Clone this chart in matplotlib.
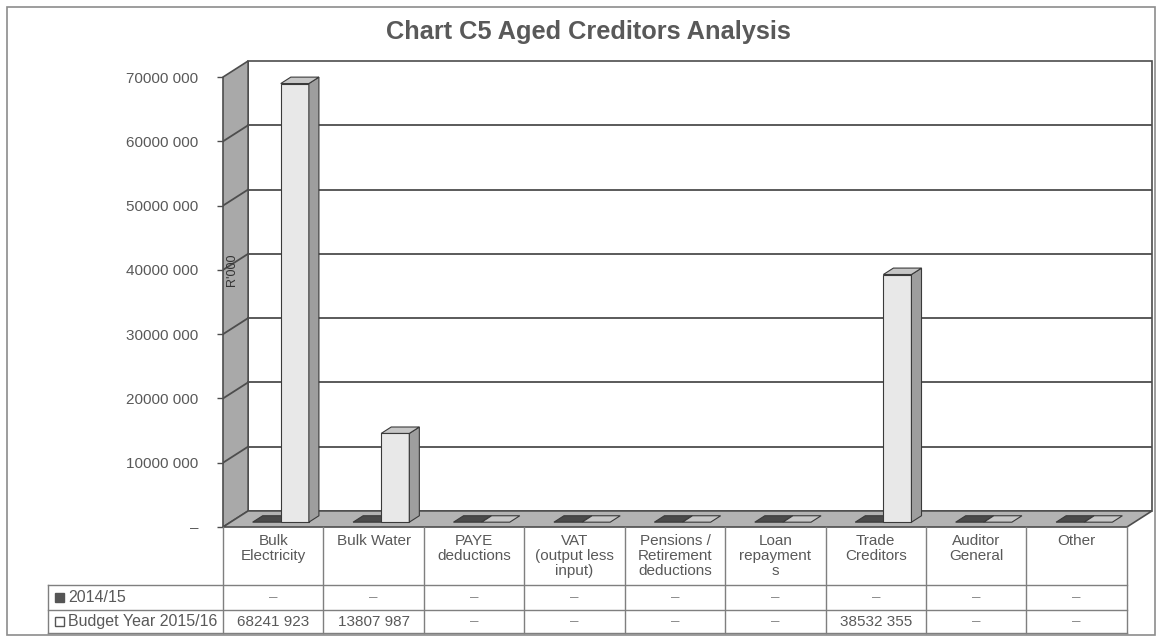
import matplotlib.pyplot as plt
from matplotlib.patches import Polygon, Rectangle

plt.rcParams['font.family'] = ['Liberation Sans', 'DejaVu Sans']

# ---- data -------------------------------------------------------------
categories = ["Bulk\nElectricity", "Bulk Water", "PAYE\ndeductions",
              "VAT\n(output less\ninput)", "Pensions /\nRetirement\ndeductions",
              "Loan\nrepayment\ns", "Trade\nCreditors", "Auditor\nGeneral", "Other"]
prior_year = [0, 0, 0, 0, 0, 0, 0, 0, 0]                       # 2014/15
budget_year = [68241923, 13807987, 0, 0, 0, 0, 38532355, 0, 0]  # 2015/16
series_names = ["2014/15", "Budget Year 2015/16"]
y_ticks = [0, 10e6, 20e6, 30e6, 40e6, 50e6, 60e6, 70e6]

TEXT = "#595959"
GRID = "#4d4d4d"
DX, DY = 0.25, 2.5e6          # depth offset of the back wall (x units, y units)
Z0, Z1 = 0.3, 0.7             # bar depth span, as fraction of the depth
W, H = 1162, 636


def fmt(v):
    v = int(round(v))
    if v == 0:
        return "\u2013"
    return f"{v // 1000} {v % 1000:03d}"


def bar3d(ax, x0, w, v, front, side, top):
    xa, xb = x0 + Z0 * DX, x0 + w + Z0 * DX
    ya, yb = Z0 * DY, Z1 * DY
    shift = (Z1 - Z0) * DX
    kw = dict(ec="#3a3a3a", lw=0.8, zorder=4, clip_on=False)
    if v > 0:
        ax.add_patch(Polygon([(xa, ya), (xb, ya), (xb, ya + v), (xa, ya + v)], fc=front, **kw))
        ax.add_patch(Polygon([(xb, ya), (xb + shift, yb), (xb + shift, yb + v), (xb, ya + v)],
                             fc=side, **kw))
    ax.add_patch(Polygon([(xa, ya + v), (xb, ya + v), (xb + shift, yb + v), (xa + shift, yb + v)],
                         fc=top, **kw))


fig = plt.figure(figsize=(W / 100, H / 100), dpi=100)
fig.patch.set_facecolor("white")

n = len(categories)
ax = fig.add_axes([223 / W, (H - 527) / H, (1152 - 223) / W, (527 - 61) / H])
ax.set_xlim(0, n + DX)
ax.set_ylim(0, y_ticks[-1] + DY)
for s in ax.spines.values():
    s.set_visible(False)
ax.set_xticks([])
ax.set_yticks(y_ticks, [fmt(v) for v in y_ticks])
ax.tick_params(axis="y", length=4, width=1, color=GRID, pad=14,
               labelsize=11, labelcolor=TEXT)
ax.patch.set_alpha(0)

top = y_ticks[-1]
# walls and floor
ax.add_patch(Polygon([(DX, DY), (n + DX, DY), (n + DX, top + DY), (DX, top + DY)],
                     fc="white", ec=GRID, lw=1.2, zorder=0, clip_on=False))
ax.add_patch(Polygon([(0, 0), (DX, DY), (DX, top + DY), (0, top)],
                     fc="#a9a9a9", ec=GRID, lw=1.2, zorder=1, clip_on=False))
ax.add_patch(Polygon([(0, 0), (n, 0), (n + DX, DY), (DX, DY)],
                     fc="#b3b3b3", ec=GRID, lw=1.2, zorder=2, clip_on=False))
for v in y_ticks[1:-1]:
    ax.plot([DX, n + DX], [v + DY, v + DY], color=GRID, lw=1.3, zorder=1)
    ax.plot([0, DX], [v, v + DY], color=GRID, lw=1.3, zorder=2)

# bars
for i in range(n):
    bar3d(ax, i + 0.22, 0.28, prior_year[i], "#555555", "#3f3f3f", "#4a4a4a")
    bar3d(ax, i + 0.50, 0.28, budget_year[i], "#e8e8e8", "#9e9e9e", "#c6c6c6")

ax.text(0.09, 40e6, "R'000", rotation=90, ha="center", va="center",
        fontsize=9, color="#333333", zorder=5)

# title, frame and data table in pixel coordinates
tab = fig.add_axes([0, 0, 1, 1])
tab.set_xlim(0, W)
tab.set_ylim(H, 0)
tab.axis("off")
tab.patch.set_alpha(0)

tab.add_patch(Rectangle((7, 7), 1148, 628, fc="none", ec="#8c8c8c", lw=1.2))
tab.text(588, 32, "Chart C5 Aged Creditors Analysis", ha="center", va="center",
         fontsize=18.3, fontweight="bold", color=TEXT)

xs = [ax.transData.transform((i, 0))[0] for i in range(n + 1)]
line = dict(color="#7f7f7f", lw=1)
row_y = [527, 585, 610, 633]
for x in xs:
    tab.plot([x, x], [row_y[0], row_y[-1]], **line)
tab.plot([48, 48], [row_y[1], row_y[-1]], **line)
for y in row_y[1:]:
    tab.plot([48, xs[-1]], [y, y], **line)

for i, label in enumerate(categories):
    cx = (xs[i] + xs[i + 1]) / 2
    tab.text(cx, 534, label, ha="center", va="top", fontsize=11,
             color=TEXT, linespacing=1.08)

for r, (name, vals) in enumerate(zip(series_names, [prior_year, budget_year])):
    cy = (row_y[r + 1] + row_y[r + 2]) / 2
    tab.add_patch(Rectangle((55, cy - 5), 9, 9,
                            fc="#555555" if r == 0 else "white", ec="#555555", lw=1))
    tab.text(68, cy, name, ha="left", va="center", fontsize=11.5, color=TEXT)
    for i, v in enumerate(vals):
        cx = (xs[i] + xs[i + 1]) / 2
        tab.text(cx, cy, fmt(v), ha="center", va="center", fontsize=11,
                 color=TEXT if v else "#8c8c8c")

fig.savefig("out.png", dpi=100)
